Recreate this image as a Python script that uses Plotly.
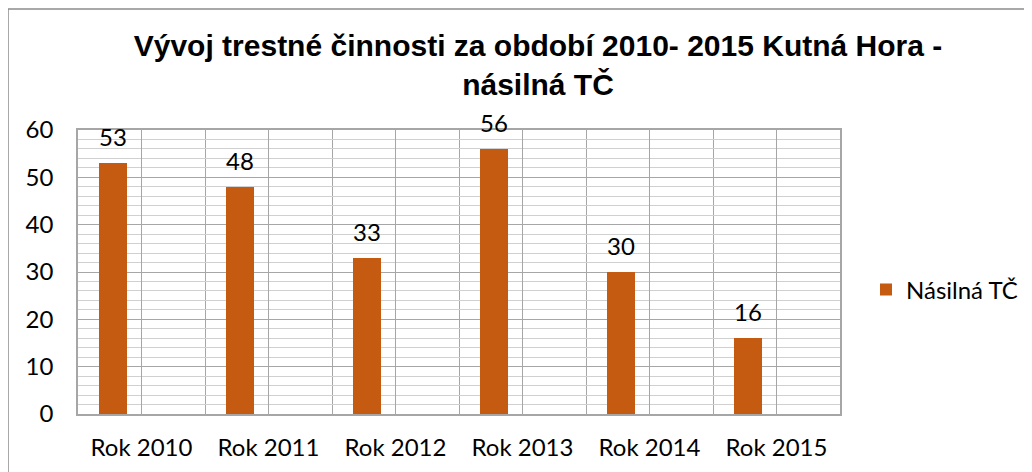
import plotly.graph_objects as go

categories = ["Rok 2010", "Rok 2011", "Rok 2012", "Rok 2013", "Rok 2014", "Rok 2015"]
values = [53, 48, 33, 56, 30, 16]
series_name = "Násilná TČ"
title_text = "<b>Vývoj trestné činnosti za období 2010- 2015 Kutná Hora -<br>násilná TČ</b>"

BAR = "#C55A11"
LBL_FONT = "Lato, Calibri, Liberation Sans, sans-serif"

xs = list(range(len(categories)))
offset = -0.335
width = 0.22

fig = go.Figure()
fig.add_trace(go.Bar(
    x=xs, y=values, name=series_name,
    marker=dict(color=BAR, line=dict(width=0)),
    offset=offset, width=width,
))

for xi, v in zip(xs, values):
    fig.add_annotation(
        x=xi + offset + width / 2, y=v, text=str(v), showarrow=False,
        yanchor="bottom", yshift=10, font=dict(family=LBL_FONT, size=24, color="#000000"),
    )

# page has an 8px body margin: work in page coordinates, convert to figure
SH = 8
W, H = 1032, 472
L, T = 78 - SH, 130 - SH
pw, ph = 762, 284
R, B = W - L - pw, H - T - ph

def px(xp):
    return (xp - SH - L) / pw

def py(yp):
    return (T + ph - (yp - SH)) / ph

fig.add_shape(type="rect", xref="paper", yref="paper",
              x0=px(8), x1=px(1045), y0=py(9), y1=py(490),
              line=dict(color="#8c8c8c", width=1.5), fillcolor="rgba(0,0,0,0)", layer="below")

fig.update_layout(
    width=W, height=H,
    margin=dict(l=L, r=R, t=T, b=B, autoexpand=False),
    paper_bgcolor="white", plot_bgcolor="white",
    title=dict(text=title_text, x=(538 - SH) / W, xanchor="center", y=1 - 48 / H, yanchor="top",
               font=dict(family="Liberation Sans, Arial, sans-serif", size=30, color="#000000")),
    showlegend=True,
    legend=dict(x=px(866), y=py(290), xanchor="left", yanchor="middle",
                font=dict(family=LBL_FONT, size=24, color="#000000"), bgcolor="rgba(0,0,0,0)"),
    xaxis=dict(
        range=[-0.5, len(categories) - 0.5],
        tickvals=xs, ticktext=categories,
        showgrid=True, gridcolor="#a6a6a6", gridwidth=1,
        minor=dict(tickvals=[i - 0.5 for i in range(len(categories) + 1)], showgrid=True,
                   gridcolor="#a6a6a6", gridwidth=1),
        showline=True, linecolor="#a6a6a6", linewidth=1.5, mirror=True,
        ticks="", ticklabelstandoff=11, automargin=False,
        tickfont=dict(family=LBL_FONT, size=24, color="#000000"),
        zeroline=False,
    ),
    yaxis=dict(
        range=[0, 60], dtick=10, tick0=0,
        showgrid=True, gridcolor="#a6a6a6", gridwidth=1,
        minor=dict(dtick=2, showgrid=True, gridcolor="#d0d0d0", gridwidth=1),
        showline=True, linecolor="#a6a6a6", linewidth=1.5, mirror=True,
        ticks="", ticklabelstandoff=18, automargin=False,
        tickfont=dict(family=LBL_FONT, size=24, color="#000000"),
        zeroline=False,
    ),
    bargap=0,
)

fig.write_html("out.html")
